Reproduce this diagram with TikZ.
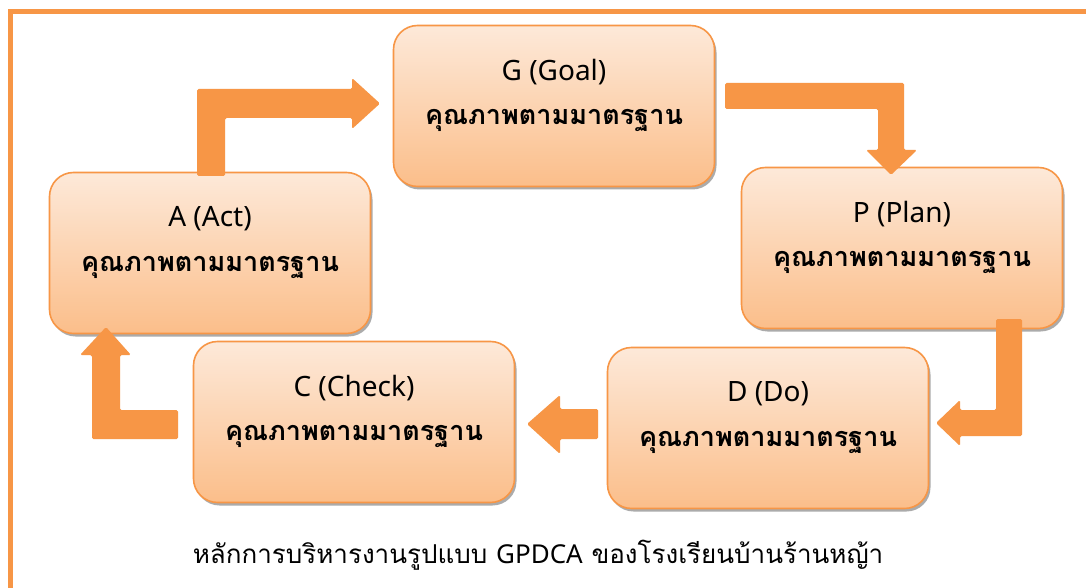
\documentclass[tikz,border=0pt]{standalone}
\usepackage{fontspec}
\newfontfamily\thai[Script=Thai]{Loma}
\newfontfamily\latin{Noto Sans}
\usetikzlibrary{shadows,calc}
\definecolor{orng}{HTML}{F79646}
\definecolor{boxtop}{HTML}{FDE9D9}
\definecolor{boxbot}{HTML}{FBBE8A}
\tikzset{
  stage/.style={draw=orng, line width=1.6pt, rounded corners=24pt,
    top color=boxtop, bottom color=boxbot, minimum width=321pt,
    minimum height=161pt, inner sep=0pt,
    drop shadow={shadow xshift=2pt, shadow yshift=-3pt, fill=black!55, opacity=0.6}},
  latinlbl/.style={font=\latin\fontsize{28}{32}\selectfont, text=black},
  thailbl/.style={font=\thai\bfseries\fontsize{27}{30}\selectfont, text=black},
  blockarrow/.style={fill=orng, draw=none, rounded corners=1.5pt},
}
\begin{document}
\begin{tikzpicture}[x=1pt,y=-1pt]
\useasboundingbox (0,0) rectangle (1086,588);
\clip (0,0) rectangle (1086,588);
\fill[white] (0,0) rectangle (1086,588);
% frame
\draw[orng, line width=5pt] (10.5,11.5) rectangle (1100,590);
% stages
\node[stage] (G) at (554,106) {};
\node[stage] (P) at (902,248) {};
\node[stage] (A) at (210,253) {};
\node[stage] (C) at (354,422) {};
\node[stage] (D) at (768,428) {};
\foreach \n/\t in {G/G (Goal), P/P (Plan), A/A (Act), C/C (Check), D/D (Do)}{
  \node[latinlbl] (\n lat) at ($(\n.north)+(0,47)$) {\t};
  \node[thailbl] (\n th) at ($(\n.north)+(0,96)$) {คุณภาพตามมาตรฐาน};
}
% arrows
\fill[blockarrow] (197,176) -- (197,89) -- (352,89) -- (352,78) -- (380,103.5) -- (352,129) -- (352,118) -- (225,118) -- (225,176) -- cycle;
\fill[blockarrow] (725,83) -- (904,83) -- (904,150) -- (917,150) -- (891,175) -- (866,150) -- (878,150) -- (878,109) -- (725,109) -- cycle;
\fill[blockarrow] (996,319) -- (1022,319) -- (1022,436) -- (960,436) -- (960,446) -- (936,423) -- (960,400) -- (960,410) -- (996,410) -- cycle;
\fill[blockarrow] (598,409) -- (598,439) -- (560,439) -- (560,454) -- (527,424) -- (560,395) -- (560,409) -- cycle;
\fill[blockarrow] (178,410) -- (178,439) -- (92,439) -- (92,355) -- (80,355) -- (106,327) -- (131,355) -- (120,355) -- (120,410) -- cycle;
% caption
\node[font=\thai\fontsize{26}{29}\selectfont, text=black] (cap) at (538,555) {หลักการบริหารงานรูปแบบ {\latin GPDCA} ของโรงเรียนบ้านร้านหญ้า};
\end{tikzpicture}
\end{document}
